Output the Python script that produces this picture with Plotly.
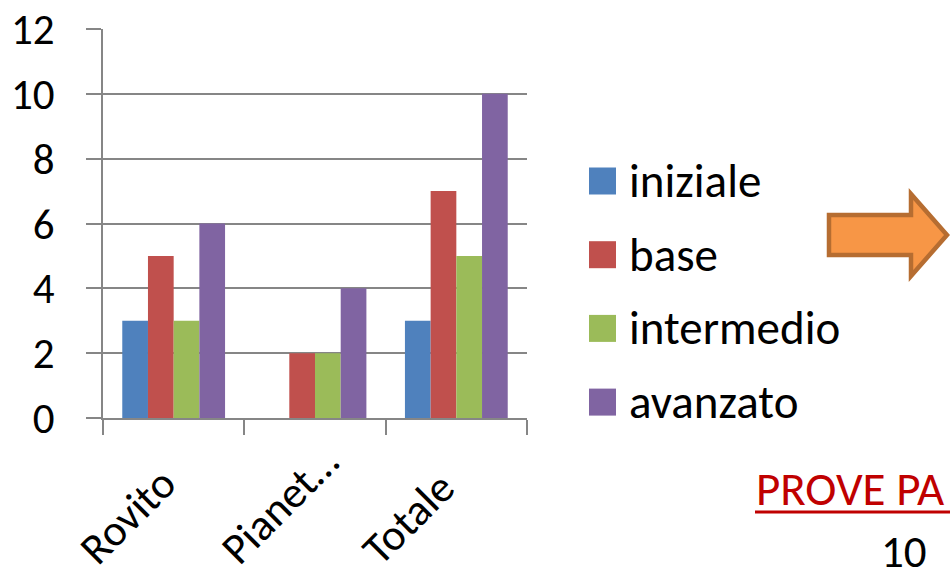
import plotly.graph_objects as go

# ---- data ----
categories = ["Rovito", "Pianet…", "Totale"]
series_names = ["iniziale", "base", "intermedio", "avanzato"]
iniziale = [3, 0, 3]
base = [5, 2, 7]
intermedio = [3, 2, 5]
avanzato = [6, 4, 10]
series_values = [iniziale, base, intermedio, avanzato]
colors = ["#4F81BD", "#C0504D", "#9BBB59", "#8064A2"]
y_ticks = [0, 2, 4, 6, 8, 10, 12]

FONT = "Calibri, Carlito, 'Liberation Sans', Arial, sans-serif"
W, H = 950, 568
L, R, T, B = 103, 423, 29, 150
PW, PH = W - L - R, H - T - B


def px(x):
    return (x - L) / PW


def py(y):
    return (H - B - y) / PH


fig = go.Figure()
for name, vals, col in zip(series_names, series_values, colors):
    fig.add_trace(go.Bar(x=categories, y=vals, name=name,
                         marker=dict(color=col, line=dict(width=0)),
                         showlegend=False, hoverinfo="skip"))

grid = "#868686"
fig.update_layout(
    width=W, height=H,
    margin=dict(l=L, r=R, t=T, b=B, pad=0, autoexpand=False),
    paper_bgcolor="white", plot_bgcolor="white",
    barmode="group", bargap=0.2727, bargroupgap=0,
    font=dict(family=FONT, color="black", size=44),
    xaxis=dict(range=[-0.5, 2.5], showline=True, linecolor=grid, linewidth=1.5,
               ticks="outside", tickson="boundaries", ticklen=15, tickcolor=grid,
               tickwidth=1.5, showticklabels=False,
               showgrid=False, zeroline=False, automargin=False),
    yaxis=dict(range=[0, 12], tickvals=y_ticks, showgrid=True, gridcolor=grid,
               gridwidth=1.5, showline=True, linecolor=grid, linewidth=1.5,
               ticks="outside", ticklen=15, tickcolor=grid, tickwidth=1.5,
               tickfont=dict(size=43), zeroline=False, automargin=False,
               ticklabelstandoff=23),
)

# category labels (rotated, start-anchored like the original)
for i, cat in enumerate(categories):
    fig.add_annotation(xref="x", yref="paper", x=i, y=py(578), xshift=-108,
                       xanchor="left", yanchor="bottom", text=cat,
                       textangle=-45, showarrow=False,
                       font=dict(size=44, family=FONT))

# manual legend
for i, (name, col) in enumerate(zip(series_names, colors)):
    cy = 181 + 73.7 * i
    fig.add_shape(type="rect", xref="paper", yref="paper",
                  x0=px(589), x1=px(616), y0=py(cy + 13.5), y1=py(cy - 13.5),
                  fillcolor=col, line=dict(width=0))
    fig.add_annotation(xref="paper", yref="paper", x=px(627), y=py(cy),
                       xanchor="left", yanchor="middle", text=name,
                       showarrow=False, font=dict(size=47, family=FONT))

# orange arrow
pts = [(829, 215), (911, 215), (911, 194), (947, 235), (911, 276), (911, 255), (829, 255)]
path = "M " + " L ".join(f"{px(x):.5f},{py(y):.5f}" for x, y in pts) + " Z"
fig.add_shape(type="path", xref="paper", yref="paper", path=path,
              fillcolor="#F79646", line=dict(color="#B66D31", width=4.5))

# red underlined text
fig.add_annotation(xref="paper", yref="paper", x=px(754), y=py(489),
                   xanchor="left", yanchor="middle", text="PROVE PA",
                   showarrow=False, font=dict(size=47, family=FONT, color="#C00000"))
fig.add_shape(type="line", xref="paper", yref="paper",
              x0=px(755), x1=px(960), y0=py(512), y1=py(512),
              line=dict(color="#C00000", width=3))

fig.add_annotation(xref="paper", yref="paper", x=px(879), y=py(551),
                   xanchor="left", yanchor="middle", text="10",
                   showarrow=False, font=dict(size=45, family=FONT))

fig.write_html("out.html", config={"displayModeBar": False},
               post_script="document.body.style.margin='0';"
                           "document.body.style.overflow='hidden';")
